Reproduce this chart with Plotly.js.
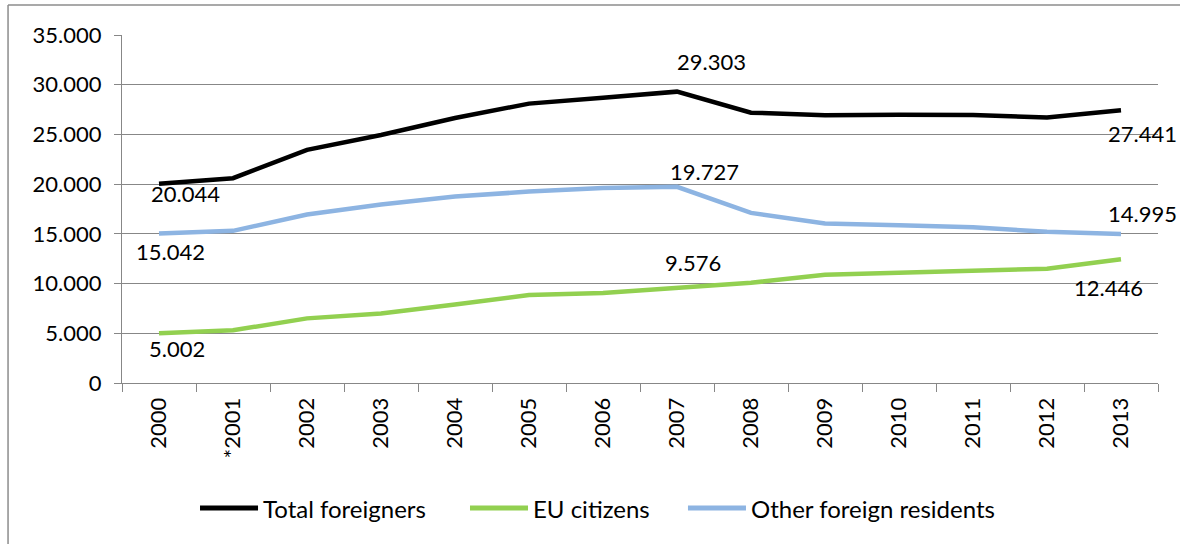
<!DOCTYPE html>
<html>
<head>
<meta charset="utf-8">
<script src="https://cdn.plot.ly/plotly-3.0.1.min.js"></script>
<style>
html,body{margin:0;padding:0;background:#fff;}
#chart{width:1180px;height:544px;}
</style>
</head>
<body>
<div id="chart"></div>
<script>
// ---- data ----
const years = ["2000","*2001","2002","2003","2004","2005","2006","2007","2008","2009","2010","2011","2012","2013"];
const totalForeigners = [20044,20600,23450,24950,26650,28100,28700,29303,27190,26930,26980,26950,26700,27441];
const euCitizens      = [5002,5300,6500,7000,7900,8850,9050,9576,10080,10880,11100,11280,11500,12446];
const otherResidents  = [15042,15300,16950,17950,18750,19250,19600,19727,17110,16050,15870,15670,15200,14995];
const seriesNames = ["Total foreigners","EU citizens","Other foreign residents"];
const seriesColors = ["#000000","#92D050","#8DB4E2"];
const labeledIdx = [0, 7, 13];

function fmt(v){ return String(v).replace(/\B(?=(\d{3})+(?!\d))/g, "."); }

const FONT = "Lato, 'Open Sans', sans-serif";
const GRID = "#878787";
const seriesVals = [totalForeigners, euCitizens, otherResidents];

const traces = seriesVals.map((vals, s) => ({
  x: years, y: vals, name: seriesNames[s], type: "scatter", mode: "lines",
  line: {color: seriesColors[s], width: 4.5}, showlegend: false
}));

// label offsets (px) per series for the labeled points
const shifts = [
  [[26,-10],[34,30],[21,-23]],
  [[18,-15],[16,25],[-13,-28]],
  [[11,-18],[27,15],[21,20]]
];
const annotations = [];
seriesVals.forEach((vals, s) => {
  labeledIdx.forEach((i, k) => {
    annotations.push({
      x: i, y: vals[i], xref: "x", yref: "y",
      text: fmt(vals[i]), showarrow: false,
      xshift: shifts[s][k][0], yshift: shifts[s][k][1],
      font: {family: FONT, size: 22, color: "#000"}
    });
  });
});

// legend drawn in paper coordinates
const legendX = [0.0753, 0.3359, 0.5463];
const legendY = -0.3592;
const shapes = [
  {type: "line", xref: "paper", yref: "paper", x0: -0.110, x1: 1.03, y0: 1.0862, y1: 1.0862,
   line: {color: "#8c8c8c", width: 1.5}},
  {type: "line", xref: "paper", yref: "paper", x0: -0.110, x1: -0.110, y0: 1.0862, y1: -0.47,
   line: {color: "#8c8c8c", width: 1.5}}
];
seriesNames.forEach((nm, s) => {
  shapes.push({type: "line", xref: "paper", yref: "paper",
    x0: legendX[s], x1: legendX[s] + 0.056, y0: legendY, y1: legendY,
    line: {color: seriesColors[s], width: 5}});
  annotations.push({xref: "paper", yref: "paper", x: legendX[s] + 0.0585, y: legendY,
    xanchor: "left", yanchor: "middle", text: nm, showarrow: false,
    font: {family: FONT, size: 24, color: "#000"}});
});

const layout = {
  width: 1180, height: 544,
  margin: {l: 122, r: 22, t: 35, b: 161, pad: 0},
  paper_bgcolor: "#fff", plot_bgcolor: "#fff",
  separators: ",.",
  font: {family: FONT, size: 22, color: "#000"},
  showlegend: false,
  xaxis: {
    type: "category", range: [-0.5, 13.5], tickson: "boundaries", ticks: "outside", ticklen: 8,
    tickcolor: GRID, tickwidth: 1, showline: true, linecolor: GRID, linewidth: 1,
    showgrid: false, tickangle: -90, tickfont: {family: FONT, size: 22, color: "#000"},
    ticklabelstandoff: 5, fixedrange: true
  },
  yaxis: {
    range: [0, 35000], dtick: 5000, tick0: 0, tickformat: ",d",
    ticks: "outside", ticklen: 7, tickcolor: GRID, tickwidth: 1,
    showline: true, linecolor: GRID, linewidth: 1,
    showgrid: true, gridcolor: GRID, gridwidth: 1, zeroline: false,
    tickfont: {family: FONT, size: 22, color: "#000"}, ticklabelstandoff: 8, fixedrange: true
  },
  annotations: annotations,
  shapes: shapes
};

Plotly.newPlot("chart", traces, layout, {displayModeBar: false, staticPlot: true});
</script>
</body>
</html>
